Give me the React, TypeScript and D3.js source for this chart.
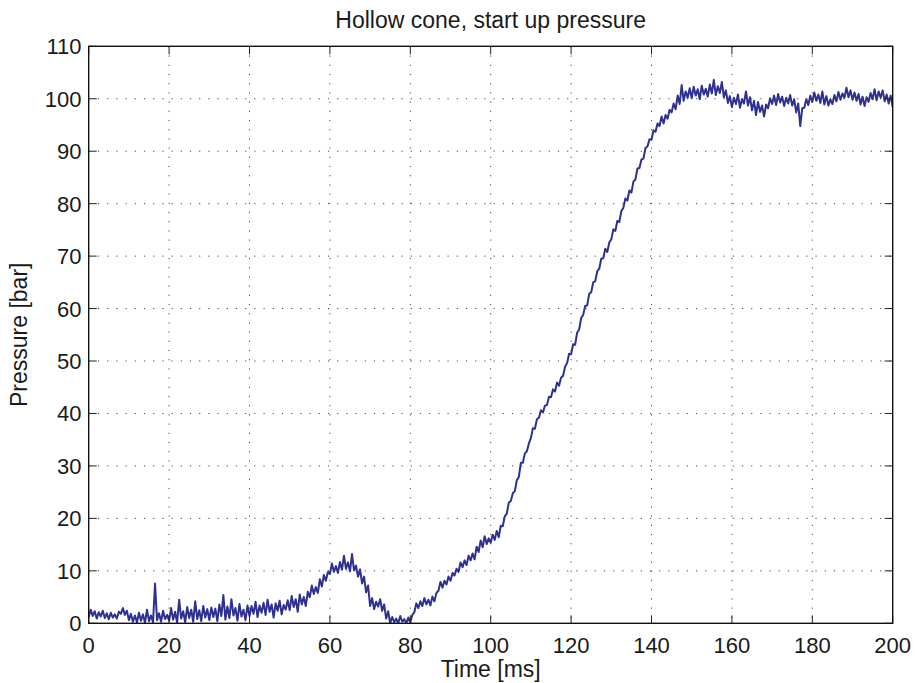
import React from "react";
import * as d3 from "d3";

// Time axis: samples every 0.5 ms from 0 to 200 ms
const sampleStepMs = 0.5;

// Pressure [bar] (two samples per ms, rows of 10 ms)
const pressure: number[] = [
  // 0-9.5
  1.2, 2.6, 1.4, 2.3, 0.9, 2.1, 1.3, 2.4, 1.0, 1.9, 0.8, 2.0, 1.1, 1.7, 0.9, 2.2, 1.8, 2.9, 1.6, 2.4,
  // 10-19.5
  0.6, 1.8, 0.3, 1.5, 0.2, 2.0, 0.5, 1.7, 0.1, 2.6, 0.4, 1.5, 0.2, 7.6, 0.6, 1.9, 0.3, 2.4, 0.8, 1.6,
  // 20-29.5
  0.5, 2.9, 0.7, 2.2, 0.1, 4.5, 0.9, 2.3, 0.2, 3.1, 1.0, 2.6, 0.3, 4.2, 0.8, 2.5, 0.4, 3.3, 1.1, 2.7,
  // 30-39.5
  0.6, 3.0, 1.2, 2.8, 0.4, 3.6, 1.4, 5.4, 0.7, 3.2, 1.0, 4.6, 1.5, 2.9, 0.5, 3.7, 1.3, 2.6, 0.6, 3.4,
  // 40-49.5
  1.4, 3.3, 1.8, 4.1, 1.2, 3.4, 2.0, 3.9, 1.6, 4.5, 2.2, 3.6, 1.1, 3.8, 2.4, 4.3, 1.7, 3.5, 2.6, 4.4,
  // 50-59.5
  2.5, 5.2, 3.1, 4.6, 2.2, 5.5, 3.6, 5.0, 3.3, 6.0, 5.0, 7.2, 5.6, 6.9, 5.8, 8.4, 7.0, 9.2, 8.1, 9.8,
  // 60-69.5
  9.4, 11.4, 9.8, 10.9, 9.6, 11.7, 10.2, 12.9, 10.4, 11.6, 9.9, 13.2, 10.1, 11.0, 8.9, 10.3, 7.6, 8.9, 5.9, 7.2,
  // 70-79.5
  3.3, 4.8, 2.7, 4.1, 3.2, 4.6, 2.4, 3.6, 0.9, 2.3, 0.0, 1.2, 0.2, 0.9, 0.0, 1.4, 0.3, 0.8, 0.0, 1.1,
  // 80-89.5
  0.2, 1.6, 2.1, 3.8, 2.9, 4.2, 3.3, 4.8, 3.6, 4.5, 3.4, 5.1, 4.2, 5.8, 6.2, 7.9, 6.8, 8.1, 7.4, 8.9,
  // 90-99.5
  8.1, 9.6, 9.1, 10.4, 9.8, 11.6, 10.7, 12.0, 11.1, 12.9, 12.0, 13.3, 12.2, 14.6, 13.6, 15.8, 14.5, 16.6, 15.1, 16.2,
  // 100-109.5
  15.4, 16.9, 15.9, 17.6, 16.4, 18.6, 18.5, 20.4, 20.9, 23.0, 23.3, 24.8, 25.2, 27.3, 27.9, 30.6, 30.6, 32.4, 32.8, 34.3,
  // 110-119.5
  35.3, 37.2, 37.1, 38.9, 39.2, 40.6, 40.2, 41.5, 41.6, 43.2, 43.1, 44.6, 44.2, 45.9, 45.3, 46.8, 47.2, 48.9, 49.6, 51.4,
  // 120-129.5
  51.3, 53.2, 53.1, 55.4, 56.0, 58.2, 58.8, 60.5, 60.6, 62.8, 63.1, 65.0, 65.2, 67.1, 67.6, 69.5, 69.6, 71.4, 70.8, 72.6,
  // 130-139.5
  73.2, 75.1, 74.8, 76.7, 76.5, 78.6, 79.2, 81.0, 80.6, 82.5, 82.1, 84.2, 84.6, 86.7, 86.8, 88.4, 88.6, 90.6, 90.9, 92.3,
  // 140-149.5
  92.2, 94.0, 93.7, 95.3, 94.8, 96.6, 95.3, 96.9, 96.2, 97.9, 97.4, 99.1, 98.0, 100.6, 99.0, 102.6, 99.6, 101.4, 100.2, 102.0,
  // 150-159.5
  100.1, 102.3, 100.6, 101.8, 99.9, 102.5, 100.8, 101.9, 100.4, 102.7, 101.0, 103.6, 100.7, 102.4, 101.1, 103.2, 100.3, 101.6, 99.2, 100.5,
  // 160-169.5
  98.4, 100.2, 99.0, 100.8, 98.3, 99.9, 99.1, 101.4, 98.7, 100.3, 97.8, 99.6, 96.9, 99.4, 97.5, 98.7, 96.6, 98.9, 98.2, 100.1,
  // 170-179.5
  99.0, 100.6, 98.8, 100.9, 99.3, 100.4, 98.6, 100.2, 99.1, 100.7, 98.7, 99.9, 97.4, 99.1, 94.8, 98.2, 98.3, 99.9, 98.8, 100.6,
  // 180-189.5
  99.4, 101.2, 99.6, 100.8, 99.2, 101.4, 98.9, 100.5, 98.7, 99.9, 99.0, 100.7, 99.5, 101.3, 99.8, 101.0, 100.2, 102.1, 100.3, 101.6,
  // 190-199.5
  99.8, 101.2, 99.6, 100.9, 98.9, 100.4, 98.6, 100.3, 99.4, 101.1, 99.9, 101.8, 99.7, 101.4, 100.2, 101.6, 99.5, 100.8, 99.1, 100.6,
  // 200
  98.4,
];

const xTicks = [0, 20, 40, 60, 80, 100, 120, 140, 160, 180, 200];
const yTicks = [0, 10, 20, 30, 40, 50, 60, 70, 80, 90, 100, 110];

const titleText = "Hollow cone, start up pressure";
const xLabelText = "Time [ms]";
const yLabelText = "Pressure [bar]";

const W = 915;
const H = 683;
const M = { left: 88.7, right: 892.7, top: 46.3, bottom: 623.3 };
const FONT = "'Liberation Sans', Arial, Helvetica, sans-serif";
const LINE_COLOR = "#2e3192";

export default function App() {
  const x = d3.scaleLinear().domain([0, 200]).range([M.left, M.right]);
  const y = d3.scaleLinear().domain([0, 110]).range([M.bottom, M.top]);

  const pts: [number, number][] = pressure.map((v, i) => [i * sampleStepMs, v]);
  const line = d3
    .line<[number, number]>()
    .x((d) => x(d[0]))
    .y((d) => y(d[1]));

  const tickLen = 8;

  return (
    <svg
      width={W}
      height={H}
      style={{ position: "absolute", left: 0, top: 0, background: "#fff" }}
      fontFamily={FONT}
    >
      <defs>
        <clipPath id="plotClip">
          <rect x={M.left} y={M.top - 2} width={M.right - M.left} height={M.bottom - M.top + 2} />
        </clipPath>
      </defs>
      <rect x={0} y={0} width={W} height={H} fill="#fff" />

      {/* grid */}
      <g stroke="#444" strokeWidth={1} strokeDasharray="1.2,8">
        {xTicks.slice(1, -1).map((t) => (
          <line key={"gx" + t} x1={x(t)} x2={x(t)} y1={M.top} y2={M.bottom} />
        ))}
        {yTicks.slice(1, -1).map((t) => (
          <line key={"gy" + t} x1={M.left} x2={M.right} y1={y(t)} y2={y(t)} />
        ))}
      </g>

      {/* data */}
      <g clipPath="url(#plotClip)">
        <path d={line(pts) || ""} fill="none" stroke={LINE_COLOR} strokeWidth={2} strokeLinejoin="round" />
      </g>

      {/* ticks */}
      <g stroke="#222" strokeWidth={1}>
        {xTicks.map((t) => (
          <g key={"tx" + t}>
            <line x1={x(t)} x2={x(t)} y1={M.bottom} y2={M.bottom - tickLen} />
            <line x1={x(t)} x2={x(t)} y1={M.top} y2={M.top + tickLen} />
          </g>
        ))}
        {yTicks.map((t) => (
          <g key={"ty" + t}>
            <line x1={M.left} x2={M.left + tickLen} y1={y(t)} y2={y(t)} />
            <line x1={M.right} x2={M.right - tickLen} y1={y(t)} y2={y(t)} />
          </g>
        ))}
      </g>

      {/* box */}
      <rect
        x={M.left}
        y={M.top}
        width={M.right - M.left}
        height={M.bottom - M.top}
        fill="none"
        stroke="#111"
        strokeWidth={1.4}
      />

      {/* tick labels */}
      <g fontSize={22} fill="#1a1a1a">
        {xTicks.map((t) => (
          <text key={"lx" + t} x={x(t)} y={653} textAnchor="middle">
            {t}
          </text>
        ))}
        {yTicks.map((t) => (
          <text key={"ly" + t} x={81.5} y={y(t) + 8} textAnchor="end">
            {t}
          </text>
        ))}
      </g>

      {/* labels */}
      <text x={(M.left + M.right) / 2} y={28} textAnchor="middle" fontSize={23} fill="#1a1a1a">
        {titleText}
      </text>
      <text x={(M.left + M.right) / 2} y={677} textAnchor="middle" fontSize={23} fill="#1a1a1a">
        {xLabelText}
      </text>
      <text
        transform={`translate(27,${(M.top + M.bottom) / 2}) rotate(-90)`}
        textAnchor="middle"
        fontSize={23}
        fill="#1a1a1a"
      >
        {yLabelText}
      </text>
    </svg>
  );
}
